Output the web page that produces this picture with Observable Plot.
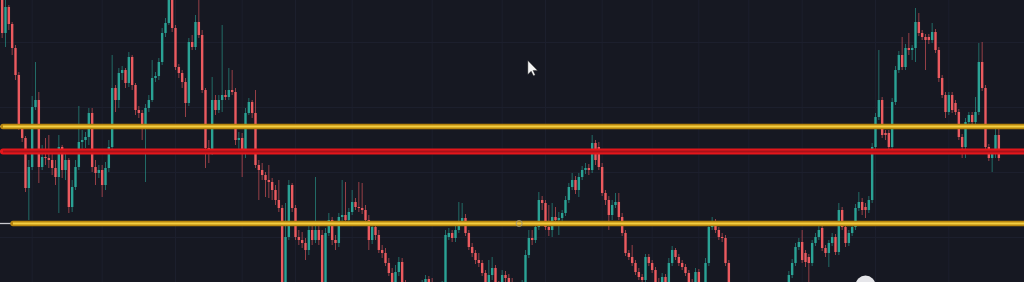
<!DOCTYPE html>
<html>
<head>
<meta charset="utf-8">
<script src="https://cdn.jsdelivr.net/npm/d3@7"></script>
<script src="https://cdn.jsdelivr.net/npm/@observablehq/plot@0.6"></script>
<style>
  html, body { margin: 0; padding: 0; background: #161822; overflow: hidden; }
  #chart svg { display: block; background: #161822; }
</style>
</head>
<body>
<div id="chart"></div>
<script>
// OHLC series, one candle per bar (bar index = position in the arrays)
const open = [
  1005,967,993,976,952,925,873,862,812,833, 893,900,833,843,842,840,832,823,853,830,
  840,793,813,833,858,860,863,887,833,827, 830,815,832,853,912,900,927,930,917,943,
  915,890,887,873,892,900,922,924,938,967, 977,1005,972,933,927,918,897,958,953,978,
  965,910,852,848,900,890,900,905,903,910, 908,860,862,847,887,898,887,835,830,825,
  820,818,810,800,792,710,763,815,792,763, 760,757,750,770,760,770,765,710,767,780,
  760,757,783,785,780,788,798,793,792,790, 780,760,773,765,750,747,737,727,718,728,
  738,718,708,704,712,700,706,716,721,718, 710,700,710,715,763,767,762,770,778,782,
  767,753,747,740,737,727,718,725,732,715, 710,725,722,718,708,700,708,716,745,762,
  760,773,800,797,773,770,783,780,782,787, 800,813,820,810,823,830,832,830,857,853,
  833,807,800,785,795,798,783,767,747,743, 737,728,723,720,743,737,730,718,710,723,
  715,737,750,743,737,733,727,718,708,728, 715,710,737,773,778,770,763,762,737,710,
  704,700,695,702,694,688,695,690,698,705, 700,708,704,712,708,714,715,725,737,753,
  758,747,743,737,757,763,772,752,747,757, 763,748,790,773,757,767,773,792,798,793,
  790,800,853,883,900,867,867,853,898,930, 945,933,952,950,952,978,967,963,963,960,
  968,950,922,905,888,905,897,888,863,853, 878,885,878,888,938,912,853,842,847,865
];
const high = [
  1010,1000,995,978,955,928,875,864,840,904, 938,908,855,862,865,850,840,865,855,850,
  842,820,840,894,870,868,892,892,840,835, 835,838,860,945,915,932,934,932,948,945,
  917,894,890,896,905,940,928,942,972,982, 1010,1008,975,936,930,922,962,965,985,1000,
  970,912,860,923,905,905,975,910,932,930, 912,868,867,892,902,900,910,840,837,828,
  835,822,815,820,795,797,820,817,795,770, 768,762,774,775,823,774,770,772,787,783,
  765,787,820,818,792,810,802,818,817,795, 785,777,778,770,755,752,742,732,735,743,
  742,720,712,716,715,710,720,725,724,722, 714,714,719,770,772,770,774,798,797,786,
  770,757,750,747,740,730,740,743,735,719, 730,729,726,722,712,712,720,750,770,770,
  778,808,804,800,795,797,793,788,790,804, 817,827,824,827,834,837,836,865,860,858,
  837,810,804,800,807,807,787,770,750,755, 740,732,726,746,746,740,733,722,727,726,
  742,754,752,746,740,736,730,721,732,731, 718,742,777,783,781,773,767,765,740,714,
  708,704,706,705,698,700,699,702,709,708, 712,711,715,715,717,718,729,741,757,762,
  770,750,746,760,767,777,775,755,760,767, 766,797,793,776,770,777,796,808,802,797,
  804,857,887,950,903,870,870,902,934,949, 963,956,967,955,992,987,970,966,966,977,
  971,953,925,908,908,908,900,891,866,882, 888,888,903,957,958,915,856,850,873,873
];
const low = [
  962,953,970,945,920,870,858,808,780,830, 890,817,830,835,832,825,815,787,822,820,
  787,788,810,830,850,852,855,828,815,822, 803,810,828,850,888,892,920,912,913,910,
  885,882,860,818,888,898,918,920,935,963, 975,968,930,922,912,883,894,950,950,962,
  907,832,837,845,885,887,888,900,900,905, 855,850,823,842,885,882,832,800,820,803,
  802,800,795,788,700,705,760,788,760,755, 752,740,745,755,757,755,700,705,764,755,
  750,753,778,775,776,785,790,788,786,775, 750,756,760,747,742,734,724,712,714,724,
  710,700,698,700,695,696,702,712,712,705, 696,697,706,712,760,758,758,767,775,764,
  750,743,736,733,724,712,714,720,708,704, 706,717,710,702,695,696,704,712,742,755,
  757,770,790,770,764,763,774,765,778,784, 797,810,806,803,820,826,825,827,835,830,
  804,795,770,780,792,780,764,744,740,734, 725,720,715,717,734,727,712,704,706,710,
  712,734,740,734,730,724,712,703,705,709, 704,707,734,770,767,760,758,734,704,700,
  695,690,691,689,684,685,686,687,694,696, 697,700,701,704,705,710,711,722,734,750,
  737,733,718,734,754,760,749,743,733,754, 745,745,770,753,754,764,770,789,785,782,
  787,797,850,880,862,860,850,850,895,927, 930,930,945,940,938,964,960,930,956,957,
  947,918,902,882,885,887,885,860,842,842, 875,875,875,885,909,850,839,828,842,839
];
const close = [
  967,993,976,952,925,873,862,812,833,893, 900,833,843,842,840,832,823,853,830,840,
  793,813,833,858,860,863,887,833,827,830, 815,832,853,912,900,927,930,917,943,915,
  890,887,873,892,900,922,924,938,967,977, 1005,972,933,927,918,897,958,953,978,965,
  910,852,848,900,890,900,905,903,910,908, 860,862,847,887,898,887,835,830,825,820,
  818,810,800,792,710,763,815,792,763,760, 757,750,770,760,770,760,710,767,780,760,
  757,783,785,780,788,798,793,792,790,780, 760,773,765,750,747,737,727,718,728,738,
  718,708,704,712,700,706,716,721,718,710, 700,710,715,765,767,762,770,778,782,767,
  753,747,740,737,727,718,725,732,715,710, 725,722,718,708,700,708,716,745,762,760,
  773,800,797,773,770,783,780,782,787,800, 813,820,810,823,830,832,830,857,840,833,
  807,800,785,795,798,783,767,747,743,737, 728,723,720,743,737,730,718,710,723,715,
  737,750,743,737,733,727,718,708,728,715, 710,737,773,778,770,763,762,737,710,704,
  700,695,702,694,688,695,690,698,705,700, 708,704,712,708,714,715,725,737,753,758,
  740,738,737,757,763,770,752,747,757,763, 748,790,773,757,767,773,792,798,790,790,
  800,853,883,900,865,865,853,898,930,945, 933,952,950,952,978,967,963,960,960,968,
  950,922,905,888,905,890,888,863,853,878, 885,878,888,938,912,853,842,847,865,842
];

// Horizontal levels drawn across the chart (price, first bar)
const levelPrice = [874, 849, 777];
const levelStart = [0.4, 0.4, 3.4];
const levelKind = ["resistance", "pivot", "support"];

// Faint background grid (bar index / price)
const gridBars = [9, 30, 52, 72, 88, 105, 129, 150, 163, 180, 195, 209, 224, 240, 262, 284];
const gridPrices = [958, 893, 828, 763];

const UP = "#2aa295", DOWN = "#eb5a5f";
const candles = close.map((c, i) => ({
  i, open: open[i], high: high[i], low: low[i], close: c,
  color: c >= open[i] ? UP : DOWN
}));
const levels = levelPrice.map((p, k) => ({price: p, start: levelStart[k], end: 306.7, kind: levelKind[k]}));
const yellow = levels.filter(d => d.kind !== "pivot");
const red = levels.filter(d => d.kind === "pivot");

// mouse-pointer glyph, tip at the anchor point
const pointer = {
  draw(ctx, size) {
    const s = Math.sqrt(size) / 5;
    ctx.moveTo(0, 0);
    ctx.lineTo(0, 11 * s);
    ctx.lineTo(2.6 * s, 8.4 * s);
    ctx.lineTo(4.4 * s, 12 * s);
    ctx.lineTo(5.8 * s, 11.3 * s);
    ctx.lineTo(4.1 * s, 7.8 * s);
    ctx.lineTo(7.6 * s, 7.8 * s);
    ctx.closePath();
  }
};

const chart = Plot.plot({
  width: 1024,
  height: 282,
  margin: 0,
  style: {background: "#161822", overflow: "hidden"},
  x: {domain: [-0.5, 306.7], axis: null},
  y: {domain: [718, 1000], axis: null},
  color: {type: "identity"},
  marks: [
    Plot.ruleX(gridBars, {stroke: "#1c1f2d", strokeWidth: 1}),
    Plot.ruleY(gridPrices, {stroke: "#1c1f2d", strokeWidth: 1}),
    // wicks
    Plot.ruleX(candles, {x: "i", y1: "low", y2: "high", stroke: "color", strokeOpacity: 0.6, strokeWidth: 1, clip: true}),
    // bodies
    Plot.ruleX(candles, {x: "i", y1: "open", y2: "close", stroke: "color", strokeWidth: 2.4, clip: true}),
    // handle stubs at the left of the drawn levels
    Plot.ruleY(levels, {y: "price", x1: -0.5, x2: "start", stroke: "#c9c9cf", strokeWidth: 1.3}),
    // yellow levels: amber edge with a light core
    Plot.ruleY(yellow, {y: "price", x1: "start", x2: "end", stroke: "#b8860f", strokeWidth: 5.5, strokeLinecap: "round"}),
    Plot.ruleY(yellow, {y: "price", x1: "start", x2: "end", stroke: "#f4cf42", strokeWidth: 2.2}),
    // red level
    Plot.ruleY(red, {y: "price", x1: "start", x2: "end", stroke: "#e4161b", strokeWidth: 6, strokeLinecap: "round"}),
    Plot.ruleY(red, {y: "price", x1: "start", x2: "end", stroke: "#a8121a", strokeWidth: 2}),
    // anchor handle on the lower level
    Plot.dot([{i: 155.1, p: 777}], {x: "i", y: "p", r: 3, stroke: "#a89a70", strokeWidth: 1, fill: "none"}),
    // pointer and overlay button
    Plot.dot([{i: 157.7, p: 940}], {x: "i", y: "p", symbol: pointer, r: 3.6, fill: "#f4f4f4", stroke: "#222", strokeWidth: 0.4}),
    Plot.dot([{i: 259, p: 715}], {x: "i", y: "p", r: 10, fill: "#e6e6ea", clip: true})
  ]
});
document.getElementById("chart").append(chart);
</script>
</body>
</html>
